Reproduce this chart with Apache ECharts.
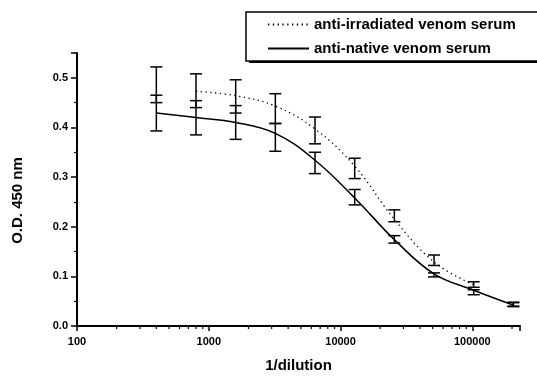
<!DOCTYPE html>
<html>
<head>
<meta charset="utf-8">
<script src="https://cdn.jsdelivr.net/npm/echarts@6/dist/echarts.min.js"></script>
<style>
  html, body { margin: 0; padding: 0; background: #fff; }
  #chart { width: 537px; height: 378px; }
</style>
</head>
<body>
<div id="chart"></div>
<script>
// dilution steps (x values)
const dilution = [400, 800, 1600, 3200, 6400, 12800, 25600, 51200, 102400, 204800];

// error bars
const nativeLow = [0.393, 0.385, 0.376, 0.352, 0.307, 0.244, 0.167, 0.099, 0.063, 0.039];
const nativeHigh = [0.522, 0.508, 0.496, 0.408, 0.350, 0.275, 0.182, 0.107, 0.073, 0.048];
const irradLow = [0.450, 0.440, 0.429, 0.408, 0.367, 0.297, 0.210, 0.122, 0.078, 0.040];
const irradHigh = [0.465, 0.454, 0.444, 0.468, 0.421, 0.338, 0.234, 0.143, 0.089, 0.047];

// fitted curves
const nativeFit = [0.429, 0.420, 0.410, 0.388, 0.334, 0.258, 0.174, 0.105, 0.072, 0.042];
const irradFit = [null, 0.473, 0.464, 0.443, 0.397, 0.322, 0.215, 0.129, 0.083, null];

// axis ticks
const yTicks = [0, 0.1, 0.2, 0.3, 0.4, 0.5];
const xMinorTicks = [200, 300, 400, 500, 600, 700, 800, 900,
  2000, 3000, 4000, 5000, 6000, 7000, 8000, 9000,
  20000, 30000, 40000, 50000, 60000, 70000, 80000, 90000,
  200000];

const FONT = "'Liberation Sans', Arial, sans-serif";

const pairs = (ys) => dilution.map((d, i) => [d, ys[i]]).filter((p) => p[1] != null);

const errorBars = (low, high) =>
  dilution.map((d, i) => [d, low[i], high[i]]);

const renderErrorBar = (params, api) => {
  const top = api.coord([api.value(0), api.value(2)]);
  const bot = api.coord([api.value(0), api.value(1)]);
  const hw = 6;
  const style = { stroke: '#000', lineWidth: 1.5 };
  return {
    type: 'group',
    children: [
      { type: 'line', shape: { x1: top[0], y1: top[1], x2: bot[0], y2: bot[1] }, style },
      { type: 'line', shape: { x1: top[0] - hw, y1: top[1], x2: top[0] + hw, y2: top[1] }, style },
      { type: 'line', shape: { x1: bot[0] - hw, y1: bot[1], x2: bot[0] + hw, y2: bot[1] }, style },
    ],
  };
};

const chart = echarts.init(document.getElementById('chart'));

chart.setOption({
  animation: false,
  grid: { left: 77, right: 17, top: 53, bottom: 44 },
  // drop shadow under the legend box
  graphic: [
    {
      type: 'rect',
      left: 249,
      top: 16,
      z: 0,
      shape: { width: 320, height: 47 },
      style: { fill: '#000' },
    },
  ],
  legend: {
    data: ['anti-irradiated venom serum', 'anti-native venom serum'],
    orient: 'vertical',
    left: 246,
    top: 12,
    z: 10,
    padding: [5, 70, 5, 21],
    itemGap: 9,
    itemWidth: 41,
    itemHeight: 14,
    itemStyle: { opacity: 0 },
    backgroundColor: '#fff',
    borderColor: '#000',
    borderWidth: 1.5,
    textStyle: { fontFamily: FONT, fontWeight: 'bold', fontSize: 15, color: '#000' },
  },
  xAxis: {
    type: 'log',
    logBase: 10,
    min: 100,
    max: 230000,
    name: '1/dilution',
    nameLocation: 'middle',
    nameGap: 32,
    nameTextStyle: { fontFamily: FONT, fontWeight: 'bold', fontSize: 15, color: '#000' },
    axisLine: { lineStyle: { color: '#000', width: 2 } },
    axisTick: { length: 5, lineStyle: { color: '#000', width: 1.5 } },
    splitLine: { show: false },
    axisLabel: {
      margin: 10,
      fontFamily: FONT, fontWeight: 'bold', fontSize: 11, color: '#000',
      formatter: (v) => {
        const l = Math.log10(v);
        return Math.abs(l - Math.round(l)) < 1e-6 ? String(Math.round(v)) : '';
      },
    },
  },
  yAxis: {
    type: 'value',
    min: 0,
    max: 0.55,
    interval: 0.1,
    name: 'O.D. 450 nm',
    nameLocation: 'middle',
    nameGap: 52,
    nameTextStyle: { fontFamily: FONT, fontWeight: 'bold', fontSize: 15, color: '#000', padding: [0, 22, 0, 0] },
    axisLine: { show: true, lineStyle: { color: '#000', width: 2 } },
    axisTick: { show: true, length: 6, lineStyle: { color: '#000', width: 1.5 } },
    minorTick: { show: true, splitNumber: 2, length: 3, lineStyle: { color: '#000', width: 1.2 } },
    splitLine: { show: false },
    axisLabel: {
      margin: 9,
      fontFamily: FONT, fontWeight: 'bold', fontSize: 11, color: '#000',
      formatter: (v) => (yTicks.some((t) => Math.abs(t - v) < 1e-6) ? v.toFixed(1) : ''),
    },
  },
  series: [
    {
      name: 'anti-irradiated venom serum',
      type: 'line',
      data: pairs(irradFit),
      smooth: 0.4,
      symbol: 'none',
      lineStyle: { color: '#000', width: 1.3, type: [1.3, 3.5] },
      itemStyle: { color: '#000' },
      z: 3,
    },
    {
      name: 'anti-native venom serum',
      type: 'line',
      data: pairs(nativeFit),
      smooth: 0.4,
      symbol: 'none',
      lineStyle: { color: '#000', width: 1.5 },
      itemStyle: { color: '#000' },
      z: 3,
    },
    {
      name: 'irradiated error',
      type: 'custom',
      data: errorBars(irradLow, irradHigh),
      renderItem: renderErrorBar,
      encode: { x: 0, y: [1, 2] },
      z: 4,
    },
    {
      name: 'native error',
      type: 'custom',
      data: errorBars(nativeLow, nativeHigh),
      renderItem: renderErrorBar,
      encode: { x: 0, y: [1, 2] },
      z: 4,
    },
    {
      name: 'minor ticks',
      type: 'custom',
      data: xMinorTicks.map((v) => [v, 0]),
      clip: false,
      silent: true,
      renderItem: (params, api) => {
        const p = api.coord([api.value(0), 0]);
        return {
          type: 'line',
          shape: { x1: p[0], y1: p[1], x2: p[0], y2: p[1] + 3 },
          style: { stroke: '#000', lineWidth: 1.2 },
        };
      },
      encode: { x: 0, y: 1 },
      z: 5,
    },
  ],
});
</script>
</body>
</html>
